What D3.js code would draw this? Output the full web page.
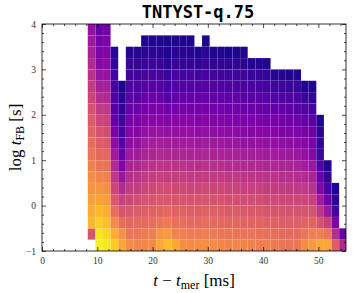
<!DOCTYPE html>
<html>
<head>
<meta charset="utf-8">
<script src="https://cdn.jsdelivr.net/npm/d3@7"></script>
<style>
  html, body { margin: 0; padding: 0; background: #fff; }
  .tick text { font-family: "Liberation Serif", "DejaVu Serif", serif; font-size: 9.5px; fill: #333; }
  .tick line { stroke: #000; stroke-width: 0.7; }
  .chart-title { font-family: "DejaVu Sans Mono", monospace; font-size: 17px; font-weight: bold; }
  .axis-label { font-family: "Liberation Serif", "DejaVu Serif", serif; font-size: 17px; }
</style>
</head>
<body>
<div id="chart" style="width:353px;height:293px"></div>
<script>
// histogram bin edges (ms and log s)
const xEdges = [8.28, 9.66, 11.04, 12.41, 13.79, 15.17, 16.55, 17.93, 19.31, 20.68, 22.06, 23.44,
  24.82, 26.2, 27.58, 28.95, 30.33, 31.71, 33.09, 34.47, 35.85, 37.22, 38.6, 39.98, 41.36,
  42.74, 44.12, 45.49, 46.87, 48.25, 49.63, 51.01, 52.39, 53.76, 55.14];
const yEdges = [-1, -0.75, -0.5, -0.25, 0, 0.25, 0.5, 0.75, 1, 1.25, 1.5, 1.75, 2, 2.25, 2.5,
  2.75, 3, 3.25, 3.5, 3.75, 4];

// colour level (0-100 on the plasma map) per column, from the bottom bin upward
const cellLevels = [
  [null, 55, 84, 81, 78, 75, 72, 69, 66, 63, 60, 57, 54, 50, 47, 43, 40, 37, 34, 31],
  [98, 95, 90, 84, 79, 75, 70, 66, 62, 58, 54, 50, 46, 41, 36, 32, 28, 25, 22, 20],
  [96, 92, 86, 81, 77, 73, 69, 65, 61, 57, 53, 49, 45, 40, 36, 32, 29, 26, 24, 22],
  [89, 82, 72, 63, 56, 50, 45, 40, 34, 29, 24, 18, 15, 13, 11, 10, 7, 4],
  [80, 74, 64, 55, 48, 41, 33, 26, 20, 15, 12, 9, 7, 5, 2],
  [72, 66, 61, 56, 50, 46, 42, 38, 34, 30, 27, 23, 20, 17, 14, 11, 8, 4],
  [70, 66, 62, 57, 52, 47, 43, 39, 35, 31, 27, 24, 20, 16, 13, 10, 7, 4],
  [71, 67, 62, 58, 54, 50, 46, 42, 38, 35, 31, 27, 23, 19, 15, 12, 8, 5, 3],
  [72, 68, 63, 59, 55, 51, 47, 43, 39, 36, 32, 28, 24, 20, 16, 12, 9, 5, 3],
  [80, 75, 66, 60, 56, 52, 48, 44, 40, 36, 32, 28, 24, 19, 15, 11, 8, 5, 3],
  [85, 76, 67, 61, 56, 52, 47, 43, 39, 35, 31, 26, 21, 15, 11, 8, 5, 3, 2],
  [80, 70, 64, 59, 55, 51, 47, 43, 39, 35, 31, 27, 23, 19, 15, 11, 8, 5, 3],
  [73, 68, 63, 59, 55, 51, 47, 43, 39, 35, 31, 27, 23, 18, 14, 10, 7, 4, 3],
  [72, 67, 62, 58, 54, 50, 46, 42, 38, 35, 31, 27, 22, 18, 14, 11, 7, 4, 2],
  [72, 67, 62, 58, 54, 50, 46, 42, 38, 34, 30, 26, 22, 18, 14, 10, 6, 3],
  [73, 68, 63, 59, 55, 51, 47, 43, 39, 35, 31, 27, 23, 19, 15, 11, 8, 5, 3],
  [72, 67, 62, 58, 54, 50, 46, 42, 38, 34, 30, 26, 22, 18, 14, 10, 6, 3],
  [71, 66, 62, 58, 54, 50, 46, 42, 38, 34, 30, 26, 22, 18, 14, 10, 7, 3],
  [70, 66, 61, 57, 53, 49, 45, 41, 37, 33, 29, 25, 21, 17, 13, 10, 6, 2],
  [70, 65, 61, 57, 53, 49, 45, 41, 37, 33, 29, 25, 21, 17, 13, 9, 6, 3],
  [70, 65, 60, 56, 52, 48, 44, 40, 36, 32, 28, 24, 20, 16, 12, 9, 5, 3],
  [69, 65, 60, 56, 52, 48, 44, 40, 36, 32, 28, 24, 20, 16, 12, 8, 4],
  [68, 64, 60, 56, 52, 48, 44, 40, 36, 32, 28, 24, 20, 16, 12, 8, 4],
  [68, 64, 59, 55, 51, 47, 43, 39, 35, 31, 27, 23, 19, 15, 11, 7, 3],
  [67, 63, 59, 55, 51, 47, 43, 39, 35, 31, 27, 23, 18, 14, 9, 4],
  [66, 62, 58, 54, 50, 46, 42, 38, 34, 30, 26, 22, 18, 13, 9, 4],
  [65, 62, 58, 54, 50, 46, 42, 38, 34, 30, 26, 21, 17, 13, 8, 3],
  [66, 62, 58, 54, 50, 45, 41, 37, 33, 29, 25, 21, 16, 12, 8, 3],
  [72, 66, 60, 55, 50, 45, 40, 35, 31, 27, 23, 18, 13, 8, 3],
  [76, 68, 60, 54, 48, 43, 38, 33, 28, 24, 20, 16, 11, 7, 3],
  [80, 68, 54, 44, 35, 27, 20, 14, 10, 7, 5, 3],
  [80, 66, 48, 33, 22, 12, 7, 3],
  [58, 42, 26, 11, 6, 3],
  [40, 18]
];

const xTicks = [0, 10, 20, 30, 40, 50];
const yTicks = [-1, 0, 1, 2, 3, 4];
const xMinor = [2, 4, 6, 8, 12, 14, 16, 18, 22, 24, 26, 28, 32, 34, 36, 38, 42, 44, 46, 48, 52, 54];
const yMinor = [-0.8, -0.6, -0.4, -0.2, 0.2, 0.4, 0.6, 0.8, 1.2, 1.4, 1.6, 1.8, 2.2, 2.4, 2.6, 2.8,
  3.2, 3.4, 3.6, 3.8];

const margin = { top: 24, right: 7, bottom: 42, left: 42 };
const W = 353, H = 293;
const width = W - margin.left - margin.right;
const height = H - margin.top - margin.bottom;

const svg = d3.select('#chart').append('svg')
  .attr('width', W)
  .attr('height', H);

const g = svg.append('g')
  .attr('transform', `translate(${margin.left},${margin.top})`);

const xScale = d3.scaleLinear().domain([0, 55]).range([0, width]);
const yScale = d3.scaleLinear().domain([-1, 4]).range([height, 0]);

svg.append('defs').append('clipPath').attr('id', 'plot-clip')
  .append('rect').attr('width', width).attr('height', height);

const cells = [];
cellLevels.forEach((col, i) => {
  col.forEach((v, j) => {
    if (v === null) return;
    cells.push({ x0: xEdges[i], x1: xEdges[i + 1], y0: yEdges[j], y1: yEdges[j + 1], v });
  });
});

g.append('g')
  .attr('clip-path', 'url(#plot-clip)')
  .selectAll('rect')
  .data(cells)
  .join('rect')
  .attr('x', d => xScale(d.x0))
  .attr('y', d => yScale(d.y1))
  .attr('width', d => xScale(d.x1) - xScale(d.x0))
  .attr('height', d => yScale(d.y0) - yScale(d.y1))
  .attr('fill', d => d3.interpolatePlasma(d.v / 100))
  .attr('stroke', 'rgba(255,255,255,0.1)')
  .attr('stroke-width', 0.5);

const fmt = d => d < 0 ? '\u2212' + Math.abs(d) : String(d);

// major + minor ticks, all pointing inward, on all four sides
function addAxis(axisFn, scale, values, size, labels, transform) {
  const ax = axisFn(scale).tickValues(values).tickSizeInner(-size).tickSizeOuter(0)
    .tickPadding(labels ? 6 : 0)
    .tickFormat(labels ? fmt : '');
  const sel = g.append('g').attr('transform', transform).call(ax);
  sel.select('.domain').remove();
  return sel;
}

addAxis(d3.axisBottom, xScale, xTicks, 4, true, `translate(0,${height})`);
addAxis(d3.axisBottom, xScale, xMinor, 2, false, `translate(0,${height})`);
addAxis(d3.axisTop, xScale, xTicks, 4, false, 'translate(0,0)');
addAxis(d3.axisTop, xScale, xMinor, 2, false, 'translate(0,0)');
addAxis(d3.axisLeft, yScale, yTicks, 4, true, 'translate(0,0)');
addAxis(d3.axisLeft, yScale, yMinor, 2, false, 'translate(0,0)');
addAxis(d3.axisRight, yScale, yTicks, 4, false, `translate(${width},0)`);
addAxis(d3.axisRight, yScale, yMinor, 2, false, `translate(${width},0)`);

g.append('rect')
  .attr('width', width).attr('height', height)
  .attr('fill', 'none').attr('stroke', '#000').attr('stroke-width', 0.8);

g.append('text')
  .attr('class', 'chart-title')
  .attr('x', width / 2 + 4).attr('y', -6)
  .attr('text-anchor', 'middle')
  .text('TNTYST-q.75');

const xl = g.append('text')
  .attr('class', 'axis-label')
  .attr('x', width / 2).attr('y', height + 35)
  .attr('text-anchor', 'middle');
xl.append('tspan').attr('font-style', 'italic').text('t');
xl.append('tspan').text(' \u2212 ');
xl.append('tspan').attr('font-style', 'italic').text('t');
xl.append('tspan').attr('font-size', '12px').attr('dy', 3).text('mer');
xl.append('tspan').attr('dy', -3).text(' [ms]');

const yl = g.append('text')
  .attr('class', 'axis-label')
  .attr('transform', 'rotate(-90)')
  .attr('x', -height / 2).attr('y', -21)
  .attr('text-anchor', 'middle');
yl.append('tspan').text('log ');
yl.append('tspan').attr('font-style', 'italic').text('t');
yl.append('tspan').attr('font-size', '12px').attr('dy', 3).text('FB');
yl.append('tspan').attr('dy', -3).text(' [s]');
</script>
</body>
</html>
